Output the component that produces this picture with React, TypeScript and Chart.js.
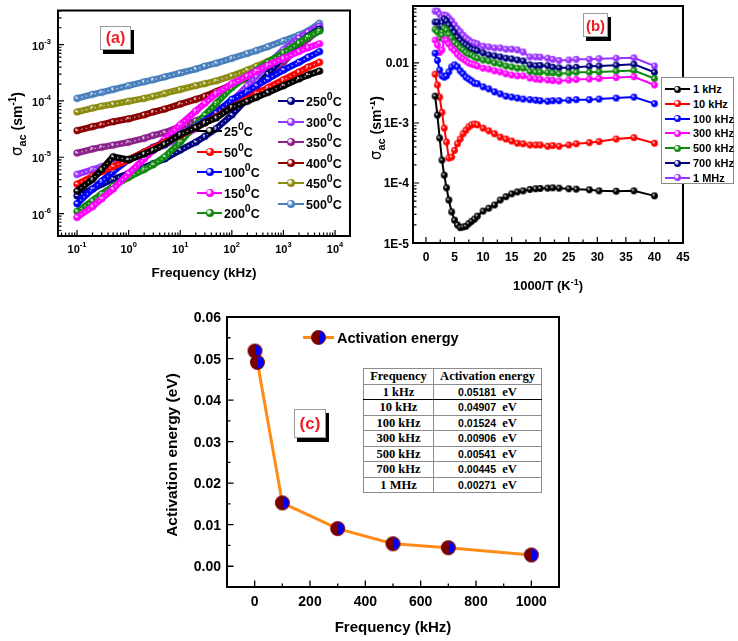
import React, { useEffect, useRef } from 'react';
import { Chart, registerables } from 'chart.js';
Chart.register(...registerables);

const SANS = '"Liberation Sans", Arial, sans-serif';
const SERIF = '"Liberation Serif", "Times New Roman", serif';

// ---------------- Panel (a): sigma_ac vs frequency ----------------
const freqA = [0.1, 0.2, 0.3, 0.5, 1, 2, 3, 5, 10, 20, 30, 50, 100, 200, 300, 500, 1000, 2000, 3000, 5000];
const sig25 = [2.51e-6, 4.06e-6, 6.05e-6, 1.02e-5, 9.02e-6, 1.15e-5, 1.34e-5, 1.71e-5, 2.54e-5, 3.36e-5, 4.11e-5, 5.01e-5, 7.78e-5, 9.88e-5, 1.16e-4, 1.42e-4, 1.87e-4, 2.47e-4, 2.9e-4, 3.4e-4];
const sig50 = [3.33e-6, 4.57e-6, 5.58e-6, 6.82e-6, 9.02e-6, 1.24e-5, 1.46e-5, 1.85e-5, 2.45e-5, 3.36e-5, 4.11e-5, 5.22e-5, 7.78e-5, 1.07e-4, 1.36e-4, 1.73e-4, 2.38e-4, 3.27e-4, 3.99e-4, 4.87e-4];
const sig100 = [1.5e-6, 2.72e-6, 3.75e-6, 5.58e-6, 9.02e-6, 1.24e-5, 1.51e-5, 1.85e-5, 2.54e-5, 3.5e-5, 4.45e-5, 6.12e-5, 1.07e-4, 1.47e-4, 1.87e-4, 2.47e-4, 3.54e-4, 4.87e-4, 5.96e-4, 7.56e-4];
const sig150 = [8.55e-7, 1.33e-6, 1.83e-6, 2.72e-6, 5.16e-6, 9.38e-6, 1.34e-5, 2.09e-5, 3.79e-5, 6.63e-5, 9.12e-5, 1.36e-4, 2.03e-4, 2.79e-4, 3.4e-4, 4.33e-4, 5.72e-4, 7.56e-4, 8.87e-4, 1.04e-3];
const sig200 = [1.09e-6, 1.69e-6, 2.23e-6, 3.07e-6, 4.39e-6, 6.05e-6, 7.38e-6, 1.02e-5, 1.85e-5, 3.79e-5, 5.65e-5, 9.12e-5, 1.73e-4, 2.79e-4, 3.54e-4, 4.87e-4, 7.26e-4, 1.08e-3, 1.38e-3, 1.75e-3];
const sig250 = [2.06e-6, 2.72e-6, 3.33e-6, 4.06e-6, 5.16e-6, 6.55e-6, 7.69e-6, 9.38e-6, 1.34e-5, 1.85e-5, 2.35e-5, 3.23e-5, 5.65e-5, 1.11e-4, 1.8e-4, 3.02e-4, 6.19e-4, 1.08e-3, 1.43e-3, 1.89e-3];
const sig300 = [4.95e-6, 6.05e-6, 6.82e-6, 7.69e-6, 9.02e-6, 1.15e-5, 1.34e-5, 1.64e-5, 2.26e-5, 3.23e-5, 4.11e-5, 5.65e-5, 9.88e-5, 1.87e-4, 2.79e-4, 4.5e-4, 8.19e-4, 1.32e-3, 1.68e-3, 2.13e-3];
const sig350 = [1.19e-5, 1.4e-5, 1.51e-5, 1.64e-5, 1.85e-5, 2.17e-5, 2.45e-5, 2.75e-5, 3.5e-5, 4.45e-5, 5.22e-5, 6.63e-5, 9.88e-5, 1.47e-4, 1.87e-4, 2.79e-4, 4.87e-4, 9.23e-4, 1.27e-3, 1.82e-3];
const sig400 = [2.98e-5, 3.5e-5, 3.79e-5, 4.28e-5, 4.82e-5, 5.65e-5, 6.37e-5, 7.18e-5, 8.77e-5, 1.07e-4, 1.21e-4, 1.47e-4, 1.95e-4, 2.57e-4, 3.14e-4, 4.16e-4, 6.19e-4, 1.08e-3, 1.43e-3, 1.97e-3];
const sig450 = [6.37e-5, 7.47e-5, 8.1e-5, 8.77e-5, 9.88e-5, 1.11e-4, 1.21e-4, 1.36e-4, 1.6e-4, 1.87e-4, 2.03e-4, 2.28e-4, 2.79e-4, 3.54e-4, 4.16e-4, 5.07e-4, 6.98e-4, 1.08e-3, 1.38e-3, 1.82e-3];
const sig500 = [1.11e-4, 1.31e-4, 1.42e-4, 1.6e-4, 1.87e-4, 2.19e-4, 2.38e-4, 2.68e-4, 3.14e-4, 3.69e-4, 4.16e-4, 4.69e-4, 5.72e-4, 6.98e-4, 7.87e-4, 9.23e-4, 1.17e-3, 1.49e-3, 1.75e-3, 2.4e-3];
const tempsA = ['25', '50', '100', '150', '200', '250', '300', '350', '400', '450', '500'];
const colorsA = ['#000000', '#ff0000', '#0000ff', '#ff00ff', '#118a11', '#000080', '#9933ff', '#8b238b', '#8b0000', '#8c8c12', '#4a80bd'];
const xTicksA = [0.1, 1, 10, 100, 1000, 10000];
const xTickExpA = ['-1', '0', '1', '2', '3', '4'];
const yTicksA = [1e-6, 1e-5, 1e-4, 1e-3];
const yTickExpA = ['-6', '-5', '-4', '-3'];

// ---------------- Panel (b): sigma_ac vs 1000/T ----------------
const invT = [1.6, 2.0, 2.4, 2.8, 3.2, 3.6, 4.0, 4.5, 5.0, 5.5, 6.0, 6.5, 7.0, 7.5, 8.0, 8.5, 9.0, 10, 11, 12, 13, 14, 15, 16, 17, 18.2, 19.2, 20, 21.3, 22.2, 23.3, 25, 26.3, 28.6, 30.3, 33.3, 36.4, 40];
const b1k = [2.8e-3, 1.35e-3, 5.6e-4, 2.4e-4, 1.35e-4, 8.3e-5, 5.2e-5, 3.3e-5, 2.4e-5, 2.0e-5, 1.8e-5, 1.85e-5, 1.9e-5, 2.1e-5, 2.3e-5, 2.5e-5, 2.8e-5, 3.4e-5, 3.8e-5, 4.3e-5, 5.2e-5, 5.9e-5, 6.6e-5, 7.1e-5, 7.4e-5, 7.8e-5, 8.0e-5, 8.1e-5, 8.2e-5, 8.3e-5, 8.2e-5, 8.0e-5, 7.9e-5, 7.7e-5, 7.4e-5, 7.3e-5, 7.4e-5, 6.1e-5];
const b10k = [6.5e-3, 4.3e-3, 2.7e-3, 1.5e-3, 8.2e-4, 4.8e-4, 2.6e-4, 2.7e-4, 3.5e-4, 4.5e-4, 5.4e-4, 6.6e-4, 7.6e-4, 8.6e-4, 9.3e-4, 9.6e-4, 9.3e-4, 8.2e-4, 7.4e-4, 6.6e-4, 5.8e-4, 5.4e-4, 5.0e-4, 4.6e-4, 4.5e-4, 4.3e-4, 4.3e-4, 4.3e-4, 4.1e-4, 4.2e-4, 4.1e-4, 4.3e-4, 4.5e-4, 4.7e-4, 4.9e-4, 5.4e-4, 5.7e-4, 4.6e-4];
const b100k = [1.45e-2, 1.1e-2, 7.6e-3, 6.1e-3, 5.8e-3, 6.1e-3, 7.1e-3, 8.6e-3, 9.3e-3, 8.6e-3, 7.4e-3, 6.6e-3, 5.8e-3, 5.4e-3, 5.0e-3, 4.6e-3, 4.5e-3, 4.0e-3, 3.7e-3, 3.3e-3, 3.05e-3, 2.8e-3, 2.7e-3, 2.6e-3, 2.5e-3, 2.45e-3, 2.4e-3, 2.35e-3, 2.3e-3, 2.35e-3, 2.35e-3, 2.4e-3, 2.45e-3, 2.45e-3, 2.5e-3, 2.6e-3, 2.7e-3, 2.1e-3];
const b300k = [2.4e-2, 2.0e-2, 1.5e-2, 1.65e-2, 2.4e-2, 2.4e-2, 2.07e-2, 1.78e-2, 1.6e-2, 1.4e-2, 1.26e-2, 1.17e-2, 1.08e-2, 1.0e-2, 9.6e-3, 9.3e-3, 8.9e-3, 8.2e-3, 7.9e-3, 7.4e-3, 7.1e-3, 6.6e-3, 6.3e-3, 6.1e-3, 6.1e-3, 5.6e-3, 5.4e-3, 5.3e-3, 5.2e-3, 5.1e-3, 5.0e-3, 5.2e-3, 5.3e-3, 5.4e-3, 5.5e-3, 5.7e-3, 5.9e-3, 4.3e-3];
const b500k = [3.6e-2, 3.3e-2, 2.6e-2, 2.9e-2, 3.8e-2, 3.55e-2, 3.0e-2, 2.6e-2, 2.2e-2, 2.0e-2, 1.78e-2, 1.65e-2, 1.5e-2, 1.4e-2, 1.36e-2, 1.26e-2, 1.2e-2, 1.12e-2, 1.08e-2, 1.0e-2, 9.6e-3, 8.9e-3, 8.6e-3, 8.2e-3, 8.2e-3, 7.2e-3, 7.0e-3, 7.0e-3, 6.9e-3, 6.8e-3, 6.6e-3, 6.8e-3, 7.0e-3, 7.0e-3, 7.1e-3, 7.3e-3, 7.5e-3, 5.5e-3];
const b700k = [4.8e-2, 4.8e-2, 4.0e-2, 4.1e-2, 5.4e-2, 5.0e-2, 4.3e-2, 3.7e-2, 3.2e-2, 2.7e-2, 2.4e-2, 2.15e-2, 2.0e-2, 1.85e-2, 1.7e-2, 1.65e-2, 1.6e-2, 1.47e-2, 1.36e-2, 1.31e-2, 1.26e-2, 1.2e-2, 1.17e-2, 1.12e-2, 1.08e-2, 9.3e-3, 9.0e-3, 9.1e-3, 9.0e-3, 8.5e-3, 8.3e-3, 8.3e-3, 8.5e-3, 8.8e-3, 8.9e-3, 9.2e-3, 9.5e-3, 7.0e-3];
const b1M = [7.3e-2, 7.3e-2, 6.5e-2, 5.8e-2, 6.3e-2, 6.1e-2, 5.6e-2, 5.0e-2, 4.3e-2, 3.7e-2, 3.3e-2, 2.9e-2, 2.6e-2, 2.4e-2, 2.2e-2, 2.15e-2, 2.07e-2, 1.9e-2, 1.85e-2, 1.78e-2, 1.78e-2, 1.7e-2, 1.7e-2, 1.65e-2, 1.52e-2, 1.26e-2, 1.26e-2, 1.25e-2, 1.2e-2, 1.15e-2, 1.1e-2, 1.12e-2, 1.15e-2, 1.15e-2, 1.18e-2, 1.2e-2, 1.22e-2, 8.9e-3];
const freqNamesB = ['1 kHz', '10 kHz', '100 kHz', '300 kHz', '500 kHz', '700 kHz', '1 MHz'];
const colorsB = ['#000000', '#ff0000', '#0000ff', '#ff00ff', '#118a11', '#000080', '#9933ff'];
const xTicksB = [0, 5, 10, 15, 20, 25, 30, 35, 40, 45];
const xMinorB = [2.5, 7.5, 12.5, 17.5, 22.5, 27.5, 32.5, 37.5, 42.5];
const yTicksB = [1e-5, 1e-4, 1e-3, 0.01];
const yTickLabelsB = ['1E-5', '1E-4', '1E-3', '0.01'];

// ---------------- Panel (c): activation energy ----------------
const freqC = [1, 10, 100, 300, 500, 700, 1000];
const eaC = [0.05181, 0.04907, 0.01524, 0.00906, 0.00541, 0.00445, 0.00271];
const freqLabelsC = ['1 kHz', '10 kHz', '100 kHz', '300 kHz', '500 kHz', '700 kHz', '1 MHz'];
const xTicksC = [0, 200, 400, 600, 800, 1000];
const xMinorC = [-100, 100, 300, 500, 700, 900, 1100];
const yTicksC = [0, 0.01, 0.02, 0.03, 0.04, 0.05, 0.06];
const yMinorC = [-0.005, 0.005, 0.015, 0.025, 0.035, 0.045, 0.055];

// ---------------- helpers ----------------
const imgCache: Record<string, HTMLCanvasElement> = {};
function sphere(color: string, r: number) {
  const key = color + '_' + r;
  if (imgCache[key]) return imgCache[key];
  const s = Math.ceil(2 * r + 2);
  const c = document.createElement('canvas');
  c.width = s; c.height = s;
  const g = c.getContext('2d')!;
  const cx = s / 2;
  g.fillStyle = color;
  g.beginPath(); g.arc(cx, cx, r, 0, Math.PI * 2); g.fill();
  g.fillStyle = 'rgba(255,255,255,0.8)';
  g.beginPath(); g.arc(cx - r * 0.25, cx - r * 0.25, r * 0.33, 0, Math.PI * 2); g.fill();
  imgCache[key] = c;
  return c;
}
function halfDot(r: number) {
  const key = 'half_' + r;
  if (imgCache[key]) return imgCache[key];
  const s = Math.ceil(2 * r + 2);
  const c = document.createElement('canvas');
  c.width = s; c.height = s;
  const g = c.getContext('2d')!;
  const cx = s / 2;
  g.fillStyle = '#7a0000';
  g.beginPath(); g.arc(cx, cx, r, 0, Math.PI * 2); g.fill();
  g.fillStyle = '#0000ff';
  g.beginPath(); g.moveTo(cx + 0.5, cx); g.arc(cx + 0.5, cx, r - 1.6, -Math.PI / 2, Math.PI / 2); g.closePath(); g.fill();
  imgCache[key] = c;
  return c;
}
function logMinors(min: number, max: number) {
  const out: number[] = [];
  for (let e = Math.floor(Math.log10(min)); e <= Math.ceil(Math.log10(max)); e++) {
    for (let k = 2; k <= 9; k++) {
      const v = k * Math.pow(10, e);
      if (v > min && v < max) out.push(v);
    }
  }
  return out;
}
type Piece = { t: string; font: string; dy?: number };
function drawPieces(ctx: any, pieces: Piece[], x: number, y: number, align: string) {
  let total = 0;
  const ws = pieces.map((p) => { ctx.font = p.font; const w = ctx.measureText(p.t).width; total += w; return w; });
  let x0 = align === 'center' ? x - total / 2 : align === 'right' ? x - total : x;
  ctx.textAlign = 'left';
  ctx.textBaseline = 'alphabetic';
  pieces.forEach((p, i) => { ctx.font = p.font; ctx.fillText(p.t, x0, y + (p.dy || 0)); x0 += ws[i]; });
}
function drawRotated(ctx: any, pieces: Piece[], cx: number, cy: number, size: number) {
  ctx.save();
  ctx.translate(cx, cy);
  ctx.rotate(-Math.PI / 2);
  drawPieces(ctx, pieces, 0, size * 0.36, 'center');
  ctx.restore();
}
function drawTicks(chart: any, xMajor: number[], xMinor: number[], yMajor: number[], yMinor: number[], majorLen: number, minorLen: number) {
  const { ctx, chartArea: a } = chart;
  const xs = chart.scales.x, ys = chart.scales.y;
  ctx.beginPath();
  const inX = (v: number) => v >= xs.min && v <= xs.max;
  const inY = (v: number) => v >= ys.min && v <= ys.max;
  xMinor.filter(inX).forEach((v) => { const p = xs.getPixelForValue(v); ctx.moveTo(p, a.bottom); ctx.lineTo(p, a.bottom - minorLen); });
  xMajor.filter(inX).forEach((v) => { const p = xs.getPixelForValue(v); ctx.moveTo(p, a.bottom); ctx.lineTo(p, a.bottom - majorLen); });
  yMinor.filter(inY).forEach((v) => { const p = ys.getPixelForValue(v); ctx.moveTo(a.left, p); ctx.lineTo(a.left + minorLen, p); });
  yMajor.filter(inY).forEach((v) => { const p = ys.getPixelForValue(v); ctx.moveTo(a.left, p); ctx.lineTo(a.left + majorLen, p); });
  ctx.stroke();
}
function sigmaTitle(size: number): Piece[] {
  return [
    { t: 'σ', font: `${size + 1}px "DejaVu Sans", sans-serif` },
    { t: 'ac', font: `bold ${size * 0.78}px ${SANS}`, dy: size * 0.28 },
    { t: ' (sm', font: `bold ${size}px ${SANS}` },
    { t: '-1', font: `bold ${size * 0.72}px ${SANS}`, dy: -size * 0.42 },
    { t: ')', font: `bold ${size}px ${SANS}` },
  ];
}

const baseOptions = (pad: any, xScale: any, yScale: any) => ({
  responsive: false,
  maintainAspectRatio: false,
  animation: false,
  devicePixelRatio: 1,
  layout: { padding: pad },
  plugins: { legend: { display: false }, tooltip: { enabled: false } },
  scales: { x: { ...xScale, display: false }, y: { ...yScale, display: false } },
});

// ---------------- chart configs ----------------
function configA() {
  const series = [sig25, sig50, sig100, sig150, sig200, sig250, sig300, sig350, sig400, sig450, sig500];
  const datasets: any[] = [];
  series.forEach((s, i) => {
    const pts = freqA.map((f, j) => ({ x: f, y: s[j] }));
    datasets.push({
      data: pts, borderColor: colorsA[i], backgroundColor: colorsA[i], borderWidth: 6.5,
      borderJoinStyle: 'round', borderCapStyle: 'round', tension: 0,
      pointStyle: sphere(colorsA[i], 3.6), pointRadius: 3.6, order: 2 * i + 1,
    });
    datasets.push({
      data: pts, borderColor: 'rgba(255,255,255,0.7)', borderWidth: 1.3, borderDash: [1.3, 3.2],
      pointRadius: 0, tension: 0, order: 2 * i,
    });
  });
  const plugin = {
    id: 'axesA',
    afterDraw(chart: any) {
      const { ctx, chartArea: a } = chart;
      const xs = chart.scales.x, ys = chart.scales.y;
      ctx.save();
      ctx.strokeStyle = '#000';
      ctx.lineWidth = 1.2;
      drawTicks(chart, xTicksA, logMinors(xs.min, xs.max), yTicksA, logMinors(ys.min, ys.max), 6, 3.5);
      ctx.lineWidth = 2;
      ctx.strokeRect(a.left, a.top, a.right - a.left, a.bottom - a.top);
      ctx.fillStyle = '#000';
      xTicksA.forEach((v, i) => drawPieces(ctx, [
        { t: '10', font: `bold 11px ${SANS}` },
        { t: xTickExpA[i], font: `bold 7.5px ${SANS}`, dy: -6 },
      ], xs.getPixelForValue(v), 253, 'center'));
      yTicksA.forEach((v, i) => drawPieces(ctx, [
        { t: '10', font: `bold 11px ${SANS}` },
        { t: yTickExpA[i], font: `bold 7.5px ${SANS}`, dy: -6 },
      ], 51, ys.getPixelForValue(v) + 5, 'right'));
      drawPieces(ctx, [{ t: 'Frequency (kHz)', font: `bold 13.5px ${SANS}` }], 204, 277, 'center');
      drawRotated(ctx, sigmaTitle(14), 17, 124, 14);
      ctx.restore();
    },
  };
  return {
    type: 'line',
    data: { datasets },
    options: baseOptions({ left: 58, top: 5, right: 18, bottom: 64 },
      { type: 'logarithmic', min: 0.0428, max: 19500 },
      { type: 'logarithmic', min: 3.99e-7, max: 4.05e-3 }),
    plugins: [plugin],
  };
}

function configB() {
  const series = [b1k, b10k, b100k, b300k, b500k, b700k, b1M];
  const datasets = series.map((s, i) => ({
    data: invT.map((x, j) => ({ x, y: s[j] })),
    borderColor: colorsB[i], backgroundColor: colorsB[i], borderWidth: 2, tension: 0,
    pointStyle: sphere(colorsB[i], 3.4), pointRadius: 3.4,
  }));
  const plugin = {
    id: 'axesB',
    afterDraw(chart: any) {
      const { ctx, chartArea: a } = chart;
      const xs = chart.scales.x, ys = chart.scales.y;
      ctx.save();
      ctx.strokeStyle = '#000';
      ctx.lineWidth = 1.2;
      drawTicks(chart, xTicksB, xMinorB, yTicksB, logMinors(ys.min, ys.max), 6, 3.5);
      ctx.lineWidth = 2;
      ctx.strokeRect(a.left, a.top, a.right - a.left, a.bottom - a.top);
      ctx.fillStyle = '#000';
      xTicksB.forEach((v) => drawPieces(ctx, [{ t: String(v), font: `bold 12px ${SANS}` }], xs.getPixelForValue(v), 261, 'center'));
      yTicksB.forEach((v, i) => drawPieces(ctx, [{ t: yTickLabelsB[i], font: `bold 12px ${SANS}` }], 39, ys.getPixelForValue(v) + 4.5, 'right'));
      drawPieces(ctx, [
        { t: '1000/T (K', font: `bold 13px ${SANS}` },
        { t: '-1', font: `bold 9px ${SANS}`, dy: -5.5 },
        { t: ')', font: `bold 13px ${SANS}` },
      ], 178, 290, 'center');
      drawRotated(ctx, sigmaTitle(14), 6, 128, 14);
      ctx.restore();
    },
  };
  return {
    type: 'line',
    data: { datasets },
    options: baseOptions({ left: 43, top: 6, right: 55, bottom: 57 },
      { type: 'linear', min: -2.27, max: 45 },
      { type: 'logarithmic', min: 1e-5, max: 0.089 }),
    plugins: [plugin],
  };
}

function configC() {
  const datasets = [{
    data: freqC.map((x, j) => ({ x, y: eaC[j] })),
    borderColor: '#ff8c1a', backgroundColor: '#7a0000', borderWidth: 3, tension: 0,
    pointStyle: halfDot(7.5), pointRadius: 7.5,
  }];
  const plugin = {
    id: 'axesC',
    afterDraw(chart: any) {
      const { ctx, chartArea: a } = chart;
      const xs = chart.scales.x, ys = chart.scales.y;
      ctx.save();
      ctx.strokeStyle = '#000';
      ctx.lineWidth = 1.3;
      drawTicks(chart, xTicksC, xMinorC, yTicksC, yMinorC, 6.5, 3.5);
      ctx.lineWidth = 2;
      ctx.strokeRect(a.left, a.top, a.right - a.left, a.bottom - a.top);
      ctx.fillStyle = '#000';
      xTicksC.forEach((v) => drawPieces(ctx, [{ t: String(v), font: `bold 14px ${SANS}` }], xs.getPixelForValue(v), 301, 'center'));
      yTicksC.forEach((v) => drawPieces(ctx, [{ t: v.toFixed(2), font: `bold 14px ${SANS}` }], 71, ys.getPixelForValue(v) + 5, 'right'));
      drawPieces(ctx, [{ t: 'Frequency (kHz)', font: `bold 15px ${SANS}` }], 243, 327, 'center');
      drawRotated(ctx, [{ t: 'Activation energy (eV)', font: `bold 15.5px ${SANS}` }], 21, 150, 15.5);
      ctx.restore();
    },
  };
  return {
    type: 'line',
    data: { datasets },
    options: baseOptions({ left: 77, top: 12, right: 51, bottom: 54 },
      { type: 'linear', min: -100, max: 1100 },
      { type: 'linear', min: -0.005, max: 0.06 }),
    plugins: [plugin],
  };
}

// ---------------- components ----------------
function ChartBox(props: { left: number; top: number; width: number; height: number; make: () => any }) {
  const ref = useRef<HTMLCanvasElement>(null);
  useEffect(() => {
    const chart = new Chart(ref.current as any, props.make());
    return () => chart.destroy();
  }, []);
  return (
    <canvas ref={ref} width={props.width} height={props.height}
      style={{ position: 'absolute', left: props.left, top: props.top, width: props.width, height: props.height }} />
  );
}

function Marker(props: { color: string; lineW: number; size: number; lineH?: number }) {
  const h = 14;
  return (
    <div style={{ position: 'relative', width: props.lineW, height: h, flex: 'none' }}>
      <div style={{ position: 'absolute', left: 0, width: props.lineW, top: h / 2 - 1, height: props.lineH || 2, background: props.color }} />
      <div style={{
        position: 'absolute', left: props.lineW / 2 - props.size / 2, top: h / 2 - props.size / 2,
        width: props.size, height: props.size, borderRadius: '50%',
        background: `radial-gradient(circle at 38% 38%, rgba(255,255,255,0.85) 0 18%, ${props.color} 40%)`,
      }} />
    </div>
  );
}

function LegendA() {
  return (
    <>
      {tempsA.map((t, i) => {
        const left = i < 5;
        const x = left ? 197 : 278;
        const y = left ? 131 + i * 20.6 : 101 + (i - 5) * 20.6;
        return (
          <div key={t} style={{ position: 'absolute', left: x, top: y - 7, height: 14, display: 'flex', alignItems: 'center', whiteSpace: 'nowrap' }}>
            <Marker color={colorsA[i]} lineW={left ? 25 : 26} size={8} />
            <span style={{ marginLeft: 2, font: `bold 12.5px ${SANS}`, lineHeight: '14px', position: 'relative', top: 1 }}>
              {t}<span style={{ fontSize: 10.5, position: 'relative', top: -6 }}>0</span>C
            </span>
          </div>
        );
      })}
    </>
  );
}

function LegendB() {
  return (
    <div style={{ position: 'absolute', left: 661, top: 77, width: 71, height: 105, border: '1px solid #8a8a8a', background: '#fff' }}>
      {freqNamesB.map((n, i) => (
        <div key={n} style={{ position: 'absolute', left: 3, top: 11 + i * 14.8 - 7, height: 14, display: 'flex', alignItems: 'center', whiteSpace: 'nowrap' }}>
          <Marker color={colorsB[i]} lineW={25} size={7} />
          <span style={{ marginLeft: 3, font: `bold 11px ${SANS}` }}>{n}</span>
        </div>
      ))}
    </div>
  );
}

function PanelTag(props: { text: string; left: number; top: number; w: number; h: number; size: number }) {
  return (
    <div style={{
      position: 'absolute', left: props.left, top: props.top, width: props.w, height: props.h,
      border: '1px solid #9a9a9a', background: '#fff', boxShadow: '3px 4px 0 #000',
      display: 'flex', alignItems: 'center', justifyContent: 'center',
      color: '#ee1c24', font: `bold ${props.size}px ${SANS}`,
    }}>{props.text}</div>
  );
}

function TableC() {
  const cell: any = { border: '1px solid #8c8c8c', padding: 0, height: 14.5, lineHeight: '14px', textAlign: 'center', whiteSpace: 'nowrap' };
  return (
    <table style={{
      position: 'absolute', left: 363, top: 368, width: 179, borderCollapse: 'collapse', tableLayout: 'fixed',
      fontFamily: SERIF, fontWeight: 'bold', fontSize: 12.5, background: '#fff', color: '#000',
    }}>
      <tbody>
        <tr>
          <td style={{ ...cell, width: 69 }}>Frequency</td>
          <td style={cell}>Activation energy</td>
        </tr>
        {freqLabelsC.map((f, i) => {
          const extra = i === 0 ? { borderBottom: '1.5px solid #000' } : {};
          return (
            <tr key={f}>
              <td style={{ ...cell, ...extra }}>{f}</td>
              <td style={{ ...cell, ...extra }}>
                <span style={{ font: `bold 10.5px ${SANS}` }}>{eaC[i].toFixed(5)}</span>
                <span>&nbsp;&nbsp;eV</span>
              </td>
            </tr>
          );
        })}
      </tbody>
    </table>
  );
}

function LegendC() {
  return (
    <div style={{ position: 'absolute', left: 303, top: 330, height: 15, display: 'flex', alignItems: 'center', whiteSpace: 'nowrap' }}>
      <div style={{ position: 'relative', width: 31, height: 15 }}>
        <div style={{ position: 'absolute', left: 0, width: 31, top: 6, height: 3, background: '#ff8c1a' }} />
        <div style={{
          position: 'absolute', left: 8, top: 0, width: 15, height: 15, borderRadius: '50%',
          background: 'linear-gradient(to right, #7a0000 0 55%, #0000ff 55%)', boxSizing: 'border-box', border: '1.5px solid #7a0000',
        }} />
      </div>
      <span style={{ marginLeft: 3, font: `bold 14.5px ${SANS}` }}>Activation energy</span>
    </div>
  );
}

export default function App() {
  return (
    <div style={{ position: 'fixed', left: 0, top: 0, width: 738, height: 641, background: '#fff', overflow: 'hidden', fontFamily: SANS, color: '#000' }}>
      <ChartBox left={0} top={0} width={368} height={300} make={configA} />
      <ChartBox left={370} top={0} width={368} height={300} make={configB} />
      <ChartBox left={150} top={305} width={460} height={336} make={configC} />
      <LegendA />
      <LegendB />
      <LegendC />
      <TableC />
      <PanelTag text="(a)" left={100} top={26} w={29} h={22} size={16} />
      <PanelTag text="(b)" left={583} top={13} w={23} h={22} size={15} />
      <PanelTag text="(c)" left={294} top={409} w={30} h={27} size={17} />
    </div>
  );
}
